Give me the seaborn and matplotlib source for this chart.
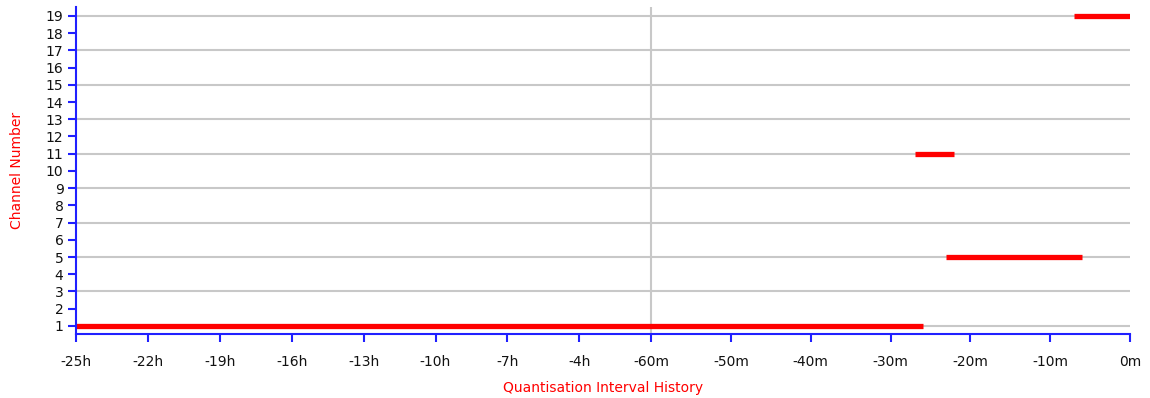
import numpy as np
import pandas as pd
import matplotlib
matplotlib.use("Agg")
import matplotlib.pyplot as plt
import seaborn as sns

sns.set_theme(style="white")
plt.rcParams['font.family'] = ['DejaVu Sans']

# data: channel activity periods, in minutes before now
channels = [1, 5, 11, 19]
starts = [-1500, -23, -27, -7]
ends = [-26, -6, -22, 0]

# axis ticks (minutes before now) and their labels
tick_pos = [-1500, -1320, -1140, -960, -780, -600, -420, -240,
            -60, -50, -40, -30, -20, -10, 0]
tick_labels = ["-25h", "-22h", "-19h", "-16h", "-13h", "-10h", "-7h", "-4h",
               "-60m", "-50m", "-40m", "-30m", "-20m", "-10m", "0m"]

# the hour part of the axis is squeezed compared to the minute part
k = 71.9 / 79.8

def forward(x):
    x = np.asarray(x, dtype=float)
    return np.where(x >= -60, x / 10, -6 + (x + 60) / 180 * k)

def inverse(y):
    y = np.asarray(y, dtype=float)
    return np.where(y >= -6, y * 10, (y + 6) / k * 180 - 60)

rows = []
for i, (c, s, e) in enumerate(zip(channels, starts, ends)):
    rows.append({"seg": i, "minute": s, "channel": c})
    rows.append({"seg": i, "minute": e, "channel": c})
df = pd.DataFrame(rows)

fig = plt.figure(figsize=(11.5, 3.98), dpi=100)
ax = fig.add_axes([76 / 1150, 1 - 334 / 398, (1130 - 76) / 1150, (334 - 7) / 398])
ax.set_xscale("function", functions=(forward, inverse))

for y in range(1, 20, 2):
    ax.axhline(y, color="#c8c8c8", lw=1.5, zorder=0)
ax.axvline(-60, color="#c8c8c8", lw=1.5, zorder=0)

sns.lineplot(data=df, x="minute", y="channel", units="seg", estimator=None,
             color="#ff0000", lw=3.8, ax=ax, legend=False, solid_capstyle="butt")

ax.set_xlim(-1500, 0)
ax.set_ylim(0.53, 19.52)
ax.set_xticks(tick_pos)
ax.set_xticklabels(tick_labels)
ax.set_yticks(range(1, 20))
ax.minorticks_off()

for side in ["top", "right"]:
    ax.spines[side].set_visible(False)
for side in ["left", "bottom"]:
    ax.spines[side].set_color("#2020ff")
    ax.spines[side].set_linewidth(1.5)
ax.tick_params(axis="both", bottom=True, left=True, direction="out",
               colors="#2020ff", length=6, width=1.5,
               labelcolor="#111111", labelsize=10)
ax.tick_params(axis="x", pad=9)
ax.tick_params(axis="y", pad=3)

ax.set_xlabel("Quantisation Interval History", color="#ff0000", fontsize=10, labelpad=9)
ax.set_ylabel("Channel Number", color="#ff0000", fontsize=10, labelpad=16)

fig.savefig("out.png", dpi=100)
